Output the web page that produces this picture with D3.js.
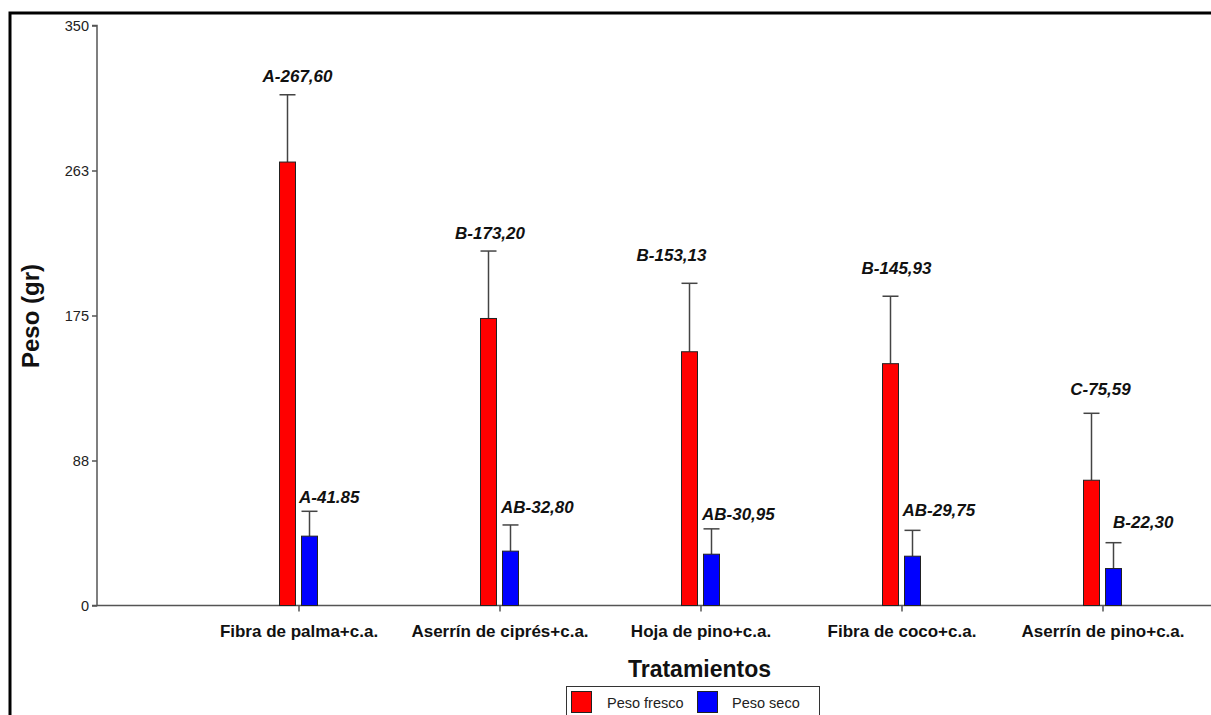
<!DOCTYPE html>
<html>
<head>
<meta charset="utf-8">
<script src="https://cdn.jsdelivr.net/npm/d3@7"></script>
<style>
  html, body { margin: 0; padding: 0; background: #fff; }
  svg { display: block; }
  text { font-family: Arial, "Liberation Sans", sans-serif; }
</style>
</head>
<body>
<svg id="chart" width="1211" height="715"></svg>
<script>
// ---- data ----
const categories = ["Fibra de palma+c.a.", "Aserrín de ciprés+c.a.", "Hoja de pino+c.a.", "Fibra de coco+c.a.", "Aserrín de pino+c.a."];
const seriesNames = ["Peso fresco", "Peso seco"];
const pesoFresco = [267.60, 173.20, 153.13, 145.93, 75.59];
const pesoSeco = [41.85, 32.80, 30.95, 29.75, 22.30];
const errFresco = [40.6, 40.7, 41.3, 40.7, 40.4];
const errSeco = [15.0, 15.8, 15.3, 15.6, 15.6];
const labelsFresco = ["A-267,60", "B-173,20", "B-153,13", "B-145,93", "C-75,59"];
const labelsSeco = ["A-41.85", "AB-32,80", "AB-30,95", "AB-29,75", "B-22,30"];
const yTickValues = [0, 87.5, 175, 262.5, 350];
const yTickLabels = ["0", "88", "175", "263", "350"];
const seriesColors = ["#ff0000", "#0000ff"];

// ---- layout (label nudges, px) ----
const frescoLabelDx = [10, 1.5, -18, 6, 9];
const frescoLabelDy = [-13, -12, -22.5, -22, -18];
const secoLabelDx = [-2.5, -1.5, -1.5, -2, 7.5];
const secoLabelDy = [-8.5, -11.5, -9, -14, -15];

const svg = d3.select("#chart");

// frame
svg.append("path")
  .attr("d", "M10,715 L10,13 L1211,13")
  .attr("fill", "none").attr("stroke", "#000").attr("stroke-width", 3);

const x0 = 97, yBottom = 605.5, yTop = 25.5;
const y = d3.scaleLinear().domain([0, 350]).range([yBottom, yTop]);
const x = d3.scalePoint().domain(categories).range([298.5, 1102.5]);
const barW = 16, gap = 3;

// y axis
const yAxis = d3.axisLeft(y).tickValues(yTickValues)
  .tickFormat((d, i) => yTickLabels[i]).tickSize(5).tickPadding(3);
const gy = svg.append("g").attr("transform", `translate(${x0},0)`).call(yAxis);
gy.select(".domain").attr("stroke", "#555").attr("stroke-width", 1.5).attr("d", `M-5,${yTop}H0V${yBottom}H-5`);
gy.selectAll(".tick line").attr("stroke", "#555").attr("stroke-width", 1.5);
gy.selectAll(".tick text").attr("font-size", 14.5).attr("fill", "#222")
  .attr("font-family", "Arial, 'Liberation Sans', sans-serif");

// x axis
svg.append("line").attr("x1", x0).attr("x2", 1211).attr("y1", yBottom).attr("y2", yBottom)
  .attr("stroke", "#555").attr("stroke-width", 1.5);
const xAxis = d3.axisBottom(x).tickSize(6).tickPadding(6);
const gx = svg.append("g").attr("transform", `translate(0,${yBottom})`).call(xAxis);
gx.select(".domain").remove();
gx.selectAll(".tick line").attr("stroke", "#555").attr("stroke-width", 1.5);
gx.selectAll(".tick text").attr("font-size", 17).attr("font-weight", "bold").attr("fill", "#111")
  .attr("font-family", "Arial, 'Liberation Sans', sans-serif").attr("dy", "1.15em");

// bars
const rows = categories.map((c, i) => ({
  c, i,
  vals: [pesoFresco[i], pesoSeco[i]],
  errs: [errFresco[i], errSeco[i]]
}));
const barX = (c, s) => s === 0 ? x(c) - gap - barW : x(c) + gap;

rows.forEach(r => {
  [0, 1].forEach(s => {
    const bx = barX(r.c, s);
    const top = y(r.vals[s]);
    const et = y(r.vals[s] + r.errs[s]);
    // error bar
    svg.append("line").attr("x1", bx + barW / 2).attr("x2", bx + barW / 2)
      .attr("y1", top).attr("y2", et).attr("stroke", "#444").attr("stroke-width", 1.5);
    svg.append("line").attr("x1", bx).attr("x2", bx + barW)
      .attr("y1", et).attr("y2", et).attr("stroke", "#444").attr("stroke-width", 1.5);
    // bar
    svg.append("rect").attr("x", bx).attr("y", top).attr("width", barW)
      .attr("height", yBottom - top).attr("fill", seriesColors[s])
      .attr("stroke", "#222").attr("stroke-width", 1);
    // label
    const t = svg.append("text")
      .attr("font-size", 17).attr("font-weight", "bold").attr("font-style", "italic").attr("fill", "#111");
    if (s === 0) {
      t.attr("x", bx + barW / 2 + frescoLabelDx[r.i]).attr("y", et + frescoLabelDy[r.i])
        .attr("text-anchor", "middle").text(labelsFresco[r.i]);
    } else {
      t.attr("x", bx + secoLabelDx[r.i]).attr("y", et + secoLabelDy[r.i])
        .attr("text-anchor", "start").text(labelsSeco[r.i]);
    }
  });
});

// axis titles
svg.append("text").attr("transform", "translate(39,316) rotate(-90)")
  .attr("text-anchor", "middle").attr("font-size", 24).attr("font-weight", "bold").attr("fill", "#111")
  .text("Peso (gr)");
svg.append("text").attr("x", 699.5).attr("y", 677).attr("text-anchor", "middle")
  .attr("font-size", 23).attr("font-weight", "bold").attr("fill", "#111").text("Tratamientos");

// legend
const lg = svg.append("g");
lg.append("rect").attr("x", 566.5).attr("y", 686.5).attr("width", 253).attr("height", 40)
  .attr("fill", "#fff").attr("stroke", "#333").attr("stroke-width", 1);
const legendItems = [{ x: 571, tx: 607 }, { x: 697, tx: 732 }];
seriesNames.forEach((n, i) => {
  lg.append("rect").attr("x", legendItems[i].x + 0.5).attr("y", 691.5).attr("width", 20).attr("height", 21)
    .attr("fill", seriesColors[i]).attr("stroke", "#222").attr("stroke-width", 1);
  lg.append("text").attr("x", legendItems[i].tx).attr("y", 708).attr("font-size", 14.5)
    .attr("fill", "#222").text(n);
});
</script>
</body>
</html>
